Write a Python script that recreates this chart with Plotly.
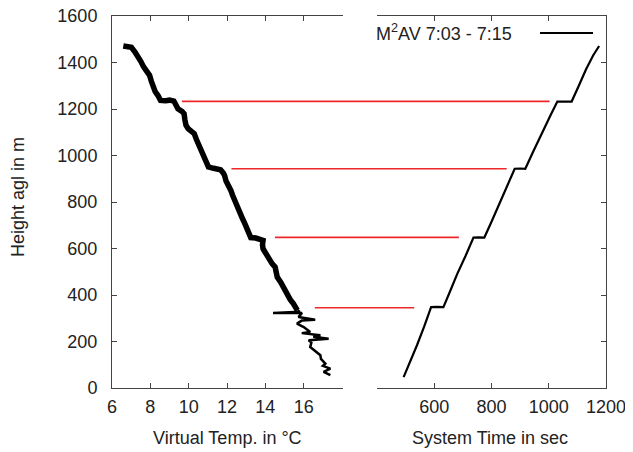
import plotly.graph_objects as go

# ---------------- data ----------------
# Virtual temperature profile (upper, thick noisy part) : temp in degC, height in m
temp_upper = [6.59, 6.8, 7.01, 7.2, 7.33, 7.5, 7.65, 7.8, 7.96, 8.05, 8.13, 8.25, 8.39, 8.53,
              8.8, 9.0, 9.23, 9.35, 9.44, 9.65, 9.76, 9.8, 9.86, 9.97, 10.15, 10.29, 10.4, 10.5,
              10.6, 10.65, 10.75, 10.82, 10.95, 11.03, 11.3, 11.66, 11.8, 11.87, 11.95, 12.08,
              12.2, 12.29, 12.4, 12.5, 12.62, 12.72, 12.8, 12.93, 13.05, 13.14, 13.24, 13.5,
              13.88, 13.85, 13.88, 13.98, 14.1, 14.19, 14.35, 14.51, 14.55, 14.62, 14.8, 14.93,
              15.05, 15.14, 15.3, 15.46, 15.6, 15.67]
height_upper = [1471, 1470, 1465, 1445, 1431, 1405, 1381, 1362, 1345, 1320, 1295, 1275, 1259, 1237,
                1236, 1238, 1234, 1215, 1201, 1190, 1180, 1155, 1130, 1115, 1100, 1094, 1070, 1051,
                1030, 1015, 995, 979, 960, 951, 945, 939, 925, 915, 890, 872,
                850, 829, 805, 786, 770, 750, 730, 707, 685, 664, 647, 645,
                635, 615, 599, 585, 565, 549, 535, 520, 500, 477, 455, 434,
                415, 399, 380, 363, 345, 334]
# lower, strongly fluctuating part of the profile
temp_lower = [15.67, 15.8, 14.4, 15.91, 15.73, 16.6, 15.9, 15.65, 16.0, 16.34, 15.9, 16.87, 16.5,
              17.3, 16.26, 16.4, 16.34, 16.6, 16.87, 16.9, 17.13, 17.0, 17.39, 17.04, 17.2, 17.39]
height_lower = [334, 328, 323, 323, 305, 294, 290, 277, 262, 241, 236, 227, 220,
                212, 205, 195, 176, 160, 141, 125, 105, 95, 83, 69, 62, 55]

# System time vs height
time_s = [493, 515, 540, 565, 589, 610, 632, 655, 680, 710, 737, 755, 775, 800, 830, 855, 881,
          900, 918, 945, 975, 1005, 1030, 1055, 1080, 1105, 1130, 1155, 1176]
height_time = [47, 110, 185, 265, 348, 349, 348, 415, 490, 570, 647, 648, 647, 715, 800, 870, 943,
               944, 943, 1015, 1095, 1170, 1232, 1233, 1232, 1300, 1370, 1430, 1471]

# Red connector lines: height, start temperature, end system time
red_height = [1233, 943, 648, 345]
red_temp_start = [9.65, 12.23, 14.5, 16.58]
red_time_end = [1003, 853, 686, 530]

temp_ticks = [6, 8, 10, 12, 14, 16]
time_ticks = [600, 800, 1000, 1200]
height_ticks = [0, 200, 400, 600, 800, 1000, 1200, 1400, 1600]
legend_label = "M<sup>2</sup>AV 7:03 - 7:15"

# ---------------- layout geometry (window pixels; page body has 8px margin) ----------------
OFF = 8
W, H = 633 - OFF, 452 - OFF
LEFT, RIGHT, TOP, BOTTOM = 112, 606, 16, 388   # plot area edges in window pixels
ML, MT = LEFT - OFF, TOP - OFF
MR, MB = W - (RIGHT - OFF), H - (BOTTOM - OFF)
PW = RIGHT - LEFT
PH = BOTTOM - TOP

def px_x(px):
    return (px - LEFT) / PW

def px_y(py):
    return (BOTTOM - py) / PH

x1_range = [6, 18.05]
x2_range = [400, 1200]
y_range = [0, 1600]
x1_dom = [0, px_x(343)]
x2_dom = [px_x(377), 1]

def to_paper(v, rng, dom):
    return dom[0] + (v - rng[0]) / (rng[1] - rng[0]) * (dom[1] - dom[0])

FONT = "Liberation Sans, Arial, Helvetica, sans-serif"
TXT = "#222222"
AX = "#444444"

fig = go.Figure()
fig.add_trace(go.Scatter(x=temp_upper, y=height_upper, mode="lines",
                         line=dict(color="black", width=5.5), xaxis="x", yaxis="y",
                         showlegend=False))
fig.add_trace(go.Scatter(x=temp_lower, y=height_lower, mode="lines",
                         line=dict(color="black", width=2.5), xaxis="x", yaxis="y",
                         showlegend=False))
fig.add_trace(go.Scatter(x=time_s, y=height_time, mode="lines",
                         line=dict(color="black", width=2.2), xaxis="x2", yaxis="y2",
                         showlegend=False))

shapes = []
for h, t0, s1 in zip(red_height, red_temp_start, red_time_end):
    shapes.append(dict(type="line", xref="paper", yref="y",
                       x0=to_paper(t0, x1_range, x1_dom), x1=to_paper(s1, x2_range, x2_dom),
                       y0=h, y1=h, line=dict(color="rgb(238,40,40)", width=1.6)))
# legend key sample
shapes.append(dict(type="line", xref="paper", yref="paper",
                   x0=px_x(540), x1=px_x(593), y0=px_y(33), y1=px_y(33),
                   line=dict(color="black", width=2)))

common_axis = dict(showgrid=False, zeroline=False, showline=True, linecolor=AX, linewidth=1,
                   ticks="inside", ticklen=5, tickcolor=AX, tickwidth=1,
                   ticklabeloverflow="allow",
                   tickfont=dict(family=FONT, size=18, color=TXT))

def note(text, px, py, **kw):
    d = dict(text=text, xref="paper", yref="paper", x=px_x(px), y=px_y(py),
             xanchor="center", yanchor="middle", showarrow=False,
             font=dict(family=FONT, size=18, color=TXT))
    d.update(kw)
    return d

fig.update_layout(
    width=W, height=H,
    margin=dict(l=ML, r=MR, t=MT, b=MB, pad=0, autoexpand=False),
    paper_bgcolor="white", plot_bgcolor="white",
    xaxis=dict(domain=x1_dom, range=x1_range, tickvals=temp_ticks, mirror="ticks",
               anchor="y", ticklabelstandoff=2, **common_axis),
    xaxis2=dict(domain=x2_dom, range=x2_range, tickvals=time_ticks, mirror="ticks",
                anchor="y2", ticklabelstandoff=2, **common_axis),
    yaxis=dict(domain=[0, 1], range=y_range, tickvals=height_ticks, anchor="x",
               ticklabelstandoff=10, **common_axis),
    yaxis2=dict(domain=[0, 1], range=y_range, tickvals=height_ticks, anchor="x2",
                side="right", showticklabels=False, matches="y", **common_axis),
    shapes=shapes,
    annotations=[
        note("Height agl in m", 18, 197, textangle=-90),
        note("Virtual Temp. in °C", 227, 438),
        note("System Time in sec", 490, 438),
        note(legend_label, 374, 33, xanchor="left"),
    ],
)

fig.write_html("out.html")
